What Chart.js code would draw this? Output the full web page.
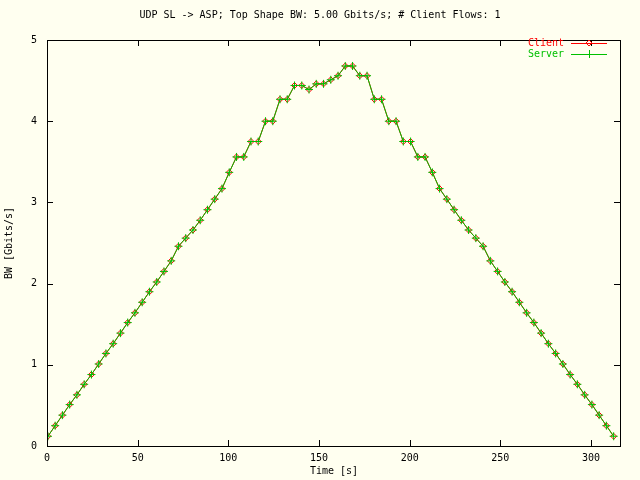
<!DOCTYPE html><html><head><script src="https://cdn.jsdelivr.net/npm/chart.js@4"></script>
<style>body{margin:0;background:#fffff0}</style></head><body>
<canvas id="c" width="640" height="480"></canvas>
<script>
const clientBW=[0.12,0.25,0.38,0.51,0.63,0.76,0.88,1.01,1.14,1.26,1.39,1.52,1.64,1.77,1.90,2.02,2.15,2.28,2.46,2.56,2.66,2.78,2.91,3.04,3.17,3.37,3.56,3.56,3.75,3.75,4.00,4.00,4.27,4.27,4.44,4.44,4.39,4.46,4.46,4.51,4.56,4.68,4.68,4.56,4.56,4.27,4.27,4.00,4.00,3.75,3.75,3.56,3.56,3.37,3.17,3.04,2.91,2.78,2.66,2.56,2.46,2.28,2.15,2.02,1.90,1.77,1.64,1.52,1.39,1.26,1.14,1.01,0.88,0.76,0.63,0.51,0.38,0.25,0.12];
const serverBW=clientBW.slice();
const times=clientBW.map((_,i)=>0.5+4*i);
const xTicks=[0,50,100,150,200,250,300];
const yTicks=[0,1,2,3,4,5];
const F='10px "DejaVu Sans Mono", monospace';
const decor={id:'decor',
 beforeDraw(ch){const c=ch.ctx;c.save();c.fillStyle='#fffff0';c.fillRect(0,0,640,480);c.restore();},
 afterDraw(ch){const c=ch.ctx,a=ch.chartArea,xs=ch.scales.x,ys=ch.scales.y;c.save();
  c.strokeStyle='#000';c.lineWidth=1;c.strokeRect(a.left+.5,a.top+.5,a.right-a.left,a.bottom-a.top);
  c.beginPath();xTicks.forEach(v=>{const p=Math.round(xs.getPixelForValue(v))+.5;c.moveTo(p,a.bottom);c.lineTo(p,a.bottom-6);c.moveTo(p,a.top);c.lineTo(p,a.top+6);});
  yTicks.forEach(v=>{const p=Math.round(ys.getPixelForValue(v))+.5;c.moveTo(a.left,p);c.lineTo(a.left+6,p);c.moveTo(a.right,p);c.lineTo(a.right-6,p);});c.stroke();
  c.font=F;c.fillStyle='#000';c.textAlign='center';c.fillText('UDP SL -> ASP; Top Shape BW: 5.00 Gbits/s; # Client Flows: 1',320,18);
  c.fillText('Time [s]',334,474);
  c.translate(12,243);c.rotate(-Math.PI/2);c.fillText('BW [Gbits/s]',0,0);c.setTransform(1,0,0,1,0,0);
  c.textAlign='right';c.textBaseline='middle';
  [['Client','#ff0000',43],['Server','#00c000',54]].forEach(([t,col,y],k)=>{c.fillStyle=col;c.fillText(t,564,y);c.strokeStyle=col;c.beginPath();c.moveTo(571,y+.5);c.lineTo(607,y+.5);c.stroke();
   const m=589;c.beginPath();if(k==0){c.moveTo(m-3,y);c.lineTo(m,y-3);c.lineTo(m+3,y);c.lineTo(m,y+3);c.closePath();}else{c.moveTo(m-4,y+.5);c.lineTo(m+4,y+.5);c.moveTo(m+.5,y-4);c.lineTo(m+.5,y+4);}c.stroke();});
  c.restore();}};
new Chart(document.getElementById('c'),{type:'line',
 data:{datasets:[
  {label:'Server',data:times.map((t,i)=>({x:t,y:serverBW[i]})),borderColor:'#00c000',borderWidth:1,pointStyle:'cross',pointRadius:4,pointBorderColor:'#00c000',pointBorderWidth:1},
  {label:'Client',data:times.map((t,i)=>({x:t,y:clientBW[i]})),borderColor:'#ff0000',borderWidth:1,pointStyle:'rectRot',pointRadius:3,pointBorderColor:'#ff0000',pointBackgroundColor:'rgba(0,0,0,0)',pointBorderWidth:1}]},
 options:{responsive:false,animation:false,devicePixelRatio:1,
  layout:{padding:{top:40,right:20,left:0,bottom:0}},
  plugins:{legend:{display:false},tooltip:{enabled:false}},
  scales:{
   x:{type:'linear',min:0,max:316,afterBuildTicks:s=>{s.ticks=xTicks.map(v=>({value:v}));},afterFit:s=>{s.height=34;},
      grid:{display:false},border:{display:false},ticks:{color:'#000',font:{family:'DejaVu Sans Mono',size:10},padding:-2,maxRotation:0}},
   y:{min:0,max:5,afterBuildTicks:s=>{s.ticks=yTicks.map(v=>({value:v}));},afterFit:s=>{s.width=47;},
      grid:{display:false},border:{display:false},ticks:{color:'#000',font:{family:'DejaVu Sans Mono',size:10},padding:2}}}},
 plugins:[decor]});
</script></body></html>
